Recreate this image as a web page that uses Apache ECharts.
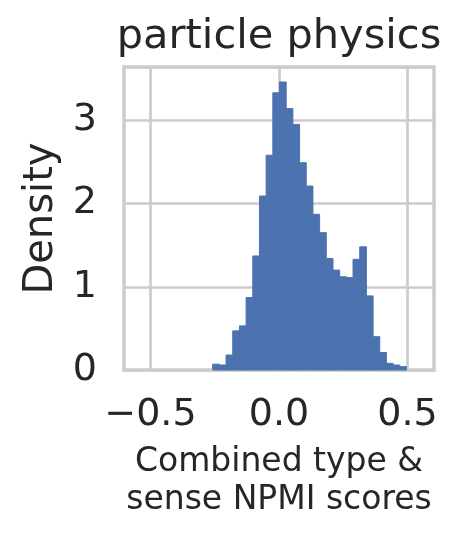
<!DOCTYPE html>
<html>
<head>
<meta charset="utf-8">
<script src="https://cdn.jsdelivr.net/npm/echarts@6/dist/echarts.min.js"></script>
<style>
  html, body { margin: 0; padding: 0; background: #fff; }
  #chart { width: 461px; height: 538px; }
</style>
</head>
<body>
<div id="chart"></div>
<script>
// histogram bins: first left edge and common width, one density per bin
const binStart = -0.258;
const binWidth = 0.026;
const densities = [
  0.07, 0.06, 0.18, 0.47, 0.53, 0.87, 1.37, 2.09, 2.58, 3.33,
  3.46, 3.14, 2.95, 2.49, 2.21, 1.87, 1.65, 1.34, 1.20, 1.12,
  1.11, 1.33, 1.48, 0.89, 0.40, 0.21, 0.08, 0.06, 0.04
];
const xTicks = [-0.5, 0.0, 0.5];
const yTicks = [0, 1, 2, 3];

const FONT = 'DejaVu Sans';
const TEXT = '#262626';
const GRID = '#cccccc';
const BAR = '#4c72b0';

const bins = densities.map((d, i) => [binStart + i * binWidth, binStart + (i + 1) * binWidth, d]);

const chart = echarts.init(document.getElementById('chart'), null, { renderer: 'canvas' });

chart.setOption({
  animation: false,
  backgroundColor: '#ffffff',
  grid: {
    left: 124, right: 27, top: 67, bottom: 168,
    show: true, borderColor: GRID, borderWidth: 3.5, backgroundColor: 'transparent'
  },
  xAxis: {
    type: 'value',
    min: -0.603,
    max: 0.603,
    axisLine: { show: false },
    axisTick: { show: false, customValues: xTicks },
    splitLine: { show: true, lineStyle: { color: GRID, width: 2.7 } },
    axisLabel: {
      customValues: xTicks,
      margin: 26,
      fontFamily: FONT,
      fontSize: 38,
      color: TEXT,
      formatter: (v) => (v < 0 ? '\u2212' : '') + Math.abs(v).toFixed(1)
    },
    name: 'Combined type &\nsense NPMI scores',
    nameLocation: 'middle',
    nameGap: 73,
    nameTextStyle: { fontFamily: FONT, fontSize: 33, lineHeight: 38, color: TEXT }
  },
  yAxis: {
    type: 'value',
    min: 0,
    max: 3.64,
    interval: 1,
    axisLine: { show: false },
    axisTick: { show: false },
    splitLine: { show: true, lineStyle: { color: GRID, width: 2.7 } },
    axisLabel: {
      margin: 27,
      fontFamily: FONT,
      fontSize: 38,
      color: TEXT,
      showMaxLabel: false,
      formatter: (v) => (yTicks.indexOf(v) >= 0 ? String(v) : '')
    },
    name: 'Density',
    nameLocation: 'middle',
    nameRotate: 90,
    nameGap: 62,
    nameTextStyle: { fontFamily: FONT, fontSize: 40, color: TEXT }
  },
  graphic: [
    {
      type: 'text',
      x: 279,
      y: 37,
      style: {
        text: 'particle physics',
        font: '41.5px "DejaVu Sans"',
        fill: TEXT,
        align: 'center',
        verticalAlign: 'middle'
      }
    }
  ],
  series: [
    {
      type: 'custom',
      data: bins,
      encode: { x: [0, 1], y: 2 },
      renderItem: (params, api) => {
        const p0 = api.coord([api.value(0), 0]);
        const p1 = api.coord([api.value(1), api.value(2)]);
        return {
          type: 'rect',
          shape: { x: p0[0], y: p1[1], width: p1[0] - p0[0], height: p0[1] - p1[1] },
          style: { fill: BAR, stroke: BAR, lineWidth: 1 }
        };
      }
    }
  ]
});
</script>
</body>
</html>
